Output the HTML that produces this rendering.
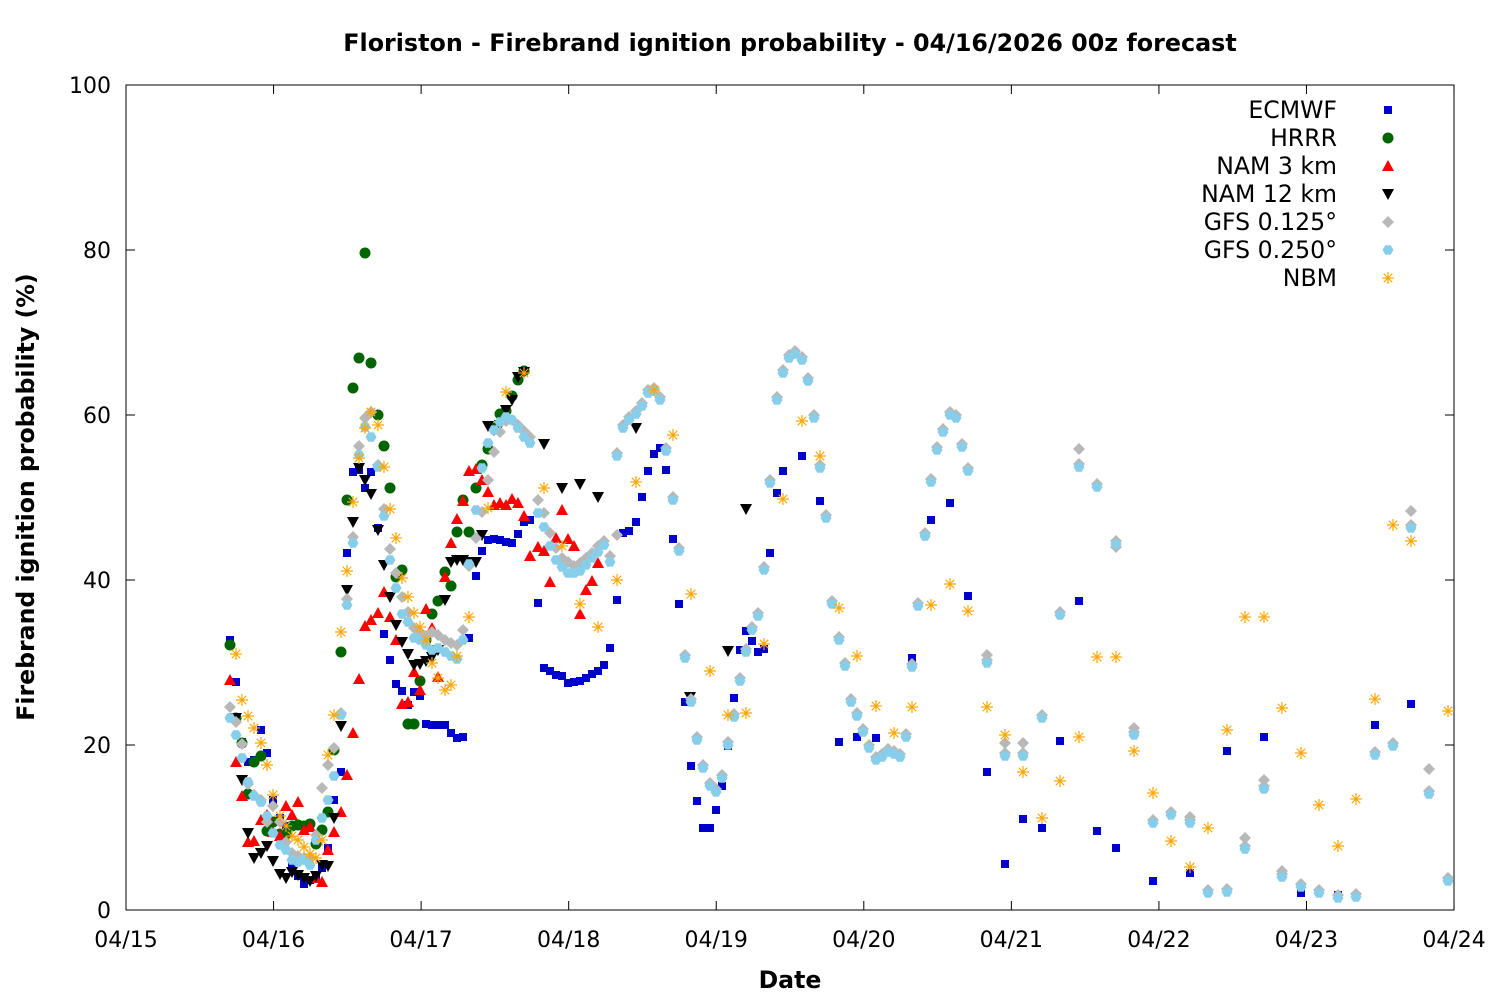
<!DOCTYPE html>
<html><head><meta charset="utf-8"><style>body{margin:0;background:#fff}svg{display:block}text{font-family:"DejaVu Sans","Liberation Sans",sans-serif}</style></head>
<body>
<svg id="s" width="1500" height="1000" xmlns="http://www.w3.org/2000/svg">
<rect width="1500" height="1000" fill="#fff"/>
<text x="790" y="51" font-size="23.8" font-weight="bold" text-anchor="middle">Floriston - Firebrand ignition probability - 04/16/2026 00z forecast</text>
<rect x="126" y="85" width="1328" height="825" fill="none" stroke="#000" stroke-width="1"/>
<g id="ax" font-size="22"></g>
<text x="790" y="988" font-size="23.6" font-weight="bold" text-anchor="middle">Date</text>
<text transform="translate(34,497) rotate(-90)" font-size="23.6" font-weight="bold" text-anchor="middle">Firebrand ignition probability (%)</text>
<g font-size="23.6" text-anchor="end">
<text x="1337" y="118">ECMWF</text><text x="1337" y="146">HRRR</text><text x="1337" y="174">NAM 3 km</text><text x="1337" y="202">NAM 12 km</text><text x="1337" y="230">GFS 0.125°</text><text x="1337" y="258">GFS 0.250°</text><text x="1337" y="286">NBM</text>
</g>
<g id="pts"></g>
</svg>
<script>
var NS="http://www.w3.org/2000/svg",ax=document.getElementById('ax'),g=document.getElementById('pts');
function el(t,a,p){var e=document.createElementNS(NS,t);for(var k in a)e.setAttribute(k,a[k]);(p||g).appendChild(e);return e;}
for(var i=0;i<=9;i++){var x=126+i*147.56;el('line',{x1:x,y1:910,x2:x,y2:901,stroke:'#000'},ax);el('line',{x1:x,y1:85,x2:x,y2:94,stroke:'#000'},ax);var t=el('text',{x:x,y:947,'text-anchor':'middle'},ax);t.textContent='04/'+(15+i);}
for(var i=0;i<=5;i++){var y=910-i*165;el('line',{x1:126,y1:y,x2:135,y2:y,stroke:'#000'},ax);el('line',{x1:1454,y1:y,x2:1445,y2:y,stroke:'#000'},ax);var t=el('text',{x:111,y:y+8,'text-anchor':'end'},ax);t.textContent=i*20;}
function sq(x,y){el('rect',{x:x-4,y:y-4,width:8,height:8,fill:'#0000cc'});}
function ci(x,y){el('circle',{cx:x,cy:y,r:5.5,fill:'#006400'});}
function tu(x,y){el('polygon',{points:(x-6)+','+(y+5)+' '+(x+6)+','+(y+5)+' '+x+','+(y-6),fill:'#ff0000'});}
function td(x,y){el('polygon',{points:(x-6)+','+(y-5)+' '+(x+6)+','+(y-5)+' '+x+','+(y+6),fill:'#000'});}
function di(x,y){el('polygon',{points:x+','+(y-6)+' '+(x+6)+','+y+' '+x+','+(y+6)+' '+(x-6)+','+y,fill:'#b8b8b8'});}
function pe(x,y){var p=[];for(var k=0;k<6;k++){var a=Math.PI/3*k;p.push((x+5.5*Math.cos(a))+','+(y+5.5*Math.sin(a)));}el('polygon',{points:p.join(' '),fill:'#87ceeb'});}
function st(x,y){for(var k=0;k<4;k++){var a=Math.PI/4*k+Math.PI/2;el('line',{x1:x-6*Math.cos(a),y1:y-6*Math.sin(a),x2:x+6*Math.cos(a),y2:y+6*Math.sin(a),stroke:'#ffa500','stroke-width':1.2});}}
function P(f,s){s=s.split(' ');for(var i=0;i<s.length;i++){var v=s[i].split(',');f(+v[0],+v[1]);}}
var E="230,640 236,682 242,742 248,762 254,760 261,730 267,753 273,800 280,818 286,826 292,866 298,876 304,884 310,880 316,878 322,868 328,848 334,800 341,772 347,553 353,472 359,470 365,488 371,472 378,528 384,634 390,660 396,684 402,691 408,705 414,692 420,696 426,724 432,725 438,725 445,725 451,733 457,738 463,737 469,638 476,576 482,551 488,540 494,539 500,540 506,542 512,543 518,534 524,522 530,520 538,603 544,668 550,671 556,675 562,676 568,683 574,682 580,681 586,678 592,674 598,671 604,665 610,648 617,600 623,533 629,531 636,522 642,497 648,471 654,454 660,448 666,470 673,539 679,604 685,702 691,766 697,801 703,828 710,828 716,810 722,786 728,746 734,698 740,650 746,631 752,641 758,652 764,649 770,553 777,493 783,471 802,456 820,501 839,742 857,737 876,738 912,658 931,520 950,503 968,596 987,772 1005,864 1023,819 1042,828 1060,741 1079,601 1097,831 1116,848 1153,881 1190,873 1227,751 1264,737 1301,893 1338,895 1375,725 1411,704";
var H="230,645 236,718 242,743 248,794 254,762 261,756 267,831 273,822 280,834 286,834 292,826 298,825 304,826 310,824 316,844 322,830 328,812 334,750 341,652 347,500 353,388 359,358 365,253 371,363 378,415 384,446 390,488 396,577 402,570 408,724 414,724 420,681 426,640 432,614 438,601 445,572 451,586 457,532 463,500 469,532 476,488 482,465 488,449 494,428 500,414 506,411 512,396 518,380 524,371";
var N3="230,680 236,762 242,796 248,842 254,841 261,820 267,815 273,832 280,836 286,806 292,815 298,802 304,830 310,827 316,878 322,882 328,850 334,832 341,812 347,775 353,733 359,679 365,626 371,620 378,613 384,592 390,617 396,640 402,704 408,702 414,672 420,690 426,609 432,628 438,677 445,577 451,543 457,519 463,501 469,471 476,469 482,480 488,492 494,505 500,503 506,505 512,499 518,503 524,516 530,556 538,547 544,551 550,582 556,538 562,510 568,539 574,546 580,614 586,590 592,581 598,563";
var N12="236,718 242,780 248,833 254,858 261,853 267,846 273,861 280,874 286,878 292,872 298,875 304,878 310,881 316,876 322,865 328,866 334,818 341,726 347,590 353,522 359,468 365,480 371,494 378,530 384,565 390,597 396,625 402,642 408,654 414,665 420,664 426,661 432,657 438,650 445,600 451,562 457,560 463,560 469,562 476,562 482,535 488,426 494,430 500,425 506,410 512,400 518,377 524,372 544,444 562,488 580,484 598,497 636,428 690,697 728,651 746,509";
var G1="230,707 236,722 242,744 248,784 254,795 261,800 267,822 273,806 280,822 286,842 292,853 298,856 304,858 310,858 316,835 322,788 328,765 334,748 341,713 347,599 353,537 359,446 365,418 371,412 378,465 384,509 390,549 396,573 402,597 408,612 414,628 420,632 426,636 432,632 438,635 445,640 451,643 457,645 463,630 469,566 476,538 482,512 488,480 494,452 500,432 506,421 512,420 518,425 524,431 530,437 538,500 544,513 550,533 556,548 562,558 568,562 574,566 580,563 586,558 592,553 598,546 604,541 610,556 617,535 987,655 1005,743 1023,743 1079,449 1116,547 1134,728 1190,817 1245,838 1264,780 1282,871 1411,511 1429,769 1448,878";
var G2="230,718 236,735 242,758 248,782 254,796 261,802 267,816 273,833 280,845 286,850 292,860 298,862 304,860 310,865 316,840 322,818 328,800 334,776 341,715 347,605 353,543 359,455 365,427 371,437 378,467 384,516 390,560 396,588 402,614 408,622 414,638 420,640 426,645 432,650 438,648 445,652 451,656 457,659 463,640 469,564 476,510 482,468 488,443 494,430 500,422 506,417 512,420 518,428 524,437 530,443 538,513 544,527 550,546 556,560 562,567 568,573 574,573 580,571 586,565 592,558 598,552 604,545 610,562 617,456 623,428 629,420 636,414 642,406 648,393 654,391 660,400 666,451 673,500 679,551 685,658 691,702 697,740 703,768 710,786 716,792 722,778 728,745 734,717 740,681 746,652 752,630 758,616 764,570 770,483 777,400 783,373 789,358 795,354 802,360 808,381 814,418 820,468 826,518 832,604 839,640 845,666 851,702 857,716 863,732 869,748 876,760 882,757 888,752 894,754 900,757 906,737 912,667 918,606 925,536 931,482 937,450 943,432 950,415 956,418 962,447 968,471 987,663 1005,756 1023,756 1042,718 1060,615 1079,467 1097,487 1116,544 1134,735 1153,823 1171,815 1190,823 1208,893 1227,892 1245,849 1264,789 1282,877 1301,887 1319,893 1338,898 1356,897 1375,755 1393,746 1411,528 1429,794 1448,881";
var NB="236,654 242,700 248,716 254,728 261,743 267,765 273,795 280,816 286,826 292,836 298,840 304,847 310,854 316,858 322,840 328,755 334,715 341,632 347,571 353,502 359,458 365,428 371,412 378,425 384,467 390,509 396,538 402,578 408,597 414,613 420,627 426,640 432,663 438,678 445,690 451,685 457,656 469,617 488,508 506,392 524,373 544,488 562,546 580,604 598,627 617,580 636,482 654,390 673,435 691,594 710,671 728,715 746,713 764,644 783,499 802,421 820,456 839,608 857,656 876,706 894,733 912,707 931,605 950,584 968,611 987,707 1005,735 1023,772 1042,818 1060,781 1079,737 1097,657 1116,657 1134,751 1153,793 1171,841 1190,867 1208,828 1227,730 1245,617 1264,617 1282,708 1301,753 1319,805 1338,846 1356,799 1375,699 1393,525 1411,541 1448,711";
P(sq,E);P(ci,H);P(tu,N3);P(td,N12);
P(di,G1);G2.split(' ').forEach(function(s){var v=s.split(',');if(+v[0]>=617)di(+v[0],+v[1]-3);});
P(pe,G2);P(st,NB);
sq(1388,110);ci(1388,138);tu(1388,166);td(1388,194);di(1388,222);pe(1388,250);st(1388,278);
</script>
</body></html>
